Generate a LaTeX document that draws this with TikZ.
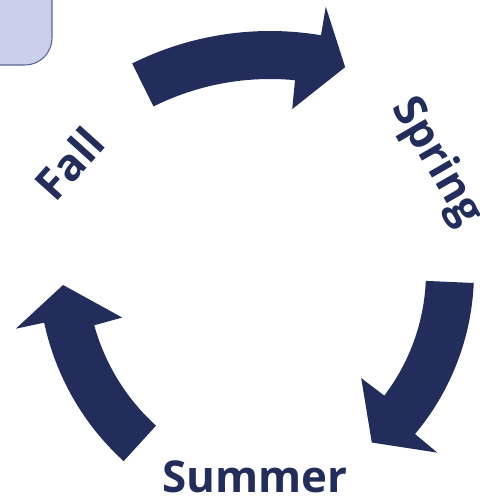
\documentclass[tikz,border=0pt]{standalone}
\usepackage{fontspec}
\setsansfont{Open Sans}
\definecolor{seasonNavy}{RGB}{34,45,92}
\definecolor{seasonLight}{RGB}{202,207,236}
\definecolor{seasonEdge}{RGB}{92,100,150}
\usetikzlibrary{calc}

\begin{document}
\begin{tikzpicture}[x=0.02cm, y=0.02cm,
  season/.style={font=\sffamily\bfseries\fontsize{25}{30}\selectfont,
                 text=seasonNavy, inner sep=0pt},
  curved/.style={fill=seasonNavy}
]
  \useasboundingbox (0,0) rectangle (480,498);

  % corner box, mostly off the page
  \draw[seasonEdge, fill=seasonLight, line width=0.6pt, rounded corners=0.54cm]
    (-40,433) rectangle (52,540);

  % Fall -> Spring
  \fill[curved, shift={(270,158)}]
    (116.5:309) arc[start angle=116.5, end angle=80.5, radius=309]
    -- (80.5:338) -- (74.6:283) -- (84.5:232) -- (84.5:261)
    arc[start angle=84.5, end angle=116.5, radius=261] -- cycle;

  % Spring -> Summer
  \fill[curved, shift={(222,226)}]
    (-2.5:252) arc[start angle=-2.5, end angle=-40, radius=252]
    -- (-40:281) -- (-48.7:227) -- (-37.3:175) -- (-37.3:204)
    arc[start angle=-37.3, end angle=-2.5, radius=204] -- cycle;

  % Summer -> Fall
  \fill[curved, shift={(299,229.5)}]
    (227.7:260.5) arc[start angle=227.7, end angle=192, radius=260.5]
    -- (192:289.5) -- (184:236.5) -- (195.5:183.5) -- (195.5:212.5)
    arc[start angle=195.5, end angle=227.7, radius=212.5] -- cycle;

  \node[season, rotate=48]  (fall)   at (69.5,334.5) {Fall};
  \node[season, rotate=-60] (spring) at (436,336)    {Spring};
  \node[season, anchor=base] (summer) at (255,6)     {Summer};
\end{tikzpicture}
\end{document}
